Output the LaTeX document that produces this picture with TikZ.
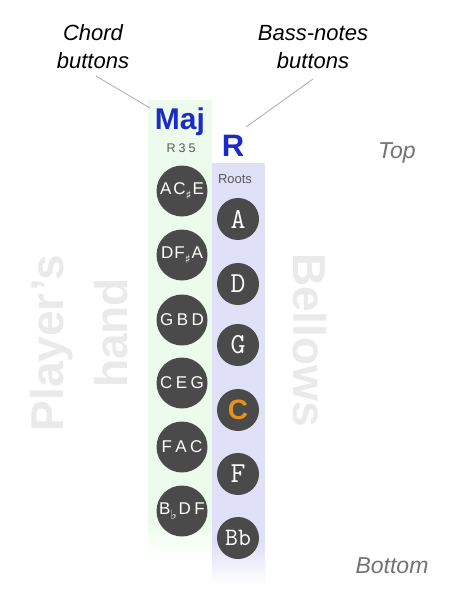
\documentclass[tikz,border=0pt]{standalone}
\usepackage{fontspec}
\setmainfont{Liberation Sans}
\newfontfamily\symf{DejaVu Sans}
\definecolor{majblue}{RGB}{28,42,200}
\definecolor{stripgreen}{RGB}{236,251,236}
\definecolor{stripblue}{RGB}{224,224,248}
\definecolor{btn}{RGB}{74,74,74}
\definecolor{ghost}{RGB}{234,234,234}
\definecolor{corange}{RGB}{232,146,26}
\definecolor{leader}{RGB}{170,170,170}
\tikzset{
  chordbtn/.style={circle,fill=btn,minimum size=51pt,inner sep=0pt,text=white,font=\fontsize{17}{17}\selectfont},
  rootbtn/.style={circle,fill=btn,minimum size=42pt,inner sep=0pt,text=white,font=\ttfamily\fontsize{29}{29}\selectfont},
  callout/.style={align=center,font=\itshape\fontsize{22}{28}\selectfont},
  ghosttext/.style={text=ghost,font=\bfseries\fontsize{46}{46}\selectfont},
  sidetext/.style={text=black!55,font=\itshape\fontsize{23}{23}\selectfont},
  leaderline/.style={draw=leader,line width=0.8pt}
}
\newcommand{\shp}{\raisebox{-5pt}{\symf\fontsize{12}{12}\selectfont ♯}}
\newcommand{\flt}{\raisebox{-5pt}{\symf\fontsize{13}{13}\selectfont ♭}}
\newcommand{\gp}{\hspace{3.5pt}}
\begin{document}
\begin{tikzpicture}[x=1pt,y=-1pt]
\useasboundingbox (0,0) rectangle (471,604);
\fill[white] (0,0) rectangle (471,604);
% strips
\fill[stripgreen] (148,100) rectangle (212,520);
\shade[top color=stripgreen,bottom color=white] (148,519.5) rectangle (212,558);
\fill[stripblue] (212,163) rectangle (265,545);
\shade[top color=stripblue,bottom color=white] (212,544.5) rectangle (265,585);
% ghost texts
\node[ghosttext,rotate=90] (player) at (52,343) {Player's};
\node[ghosttext,rotate=90] (hand) at (111,333) {hand};
\node[ghosttext,rotate=-90] (bellows) at (310,340) {Bellows};
% headers
\node[text=majblue,font=\bfseries\fontsize{30}{30}\selectfont,anchor=base] (maj) at (180,130) {Maj};
\node[text=black!65,font=\fontsize{12.5}{12.5}\selectfont,anchor=base] (r35) at (181,153) {R\hspace{3pt}3\hspace{3pt}5};
\node[text=majblue,font=\bfseries\fontsize{31}{31}\selectfont,anchor=base] (rr) at (233,157) {R};
\node[text=black!65,font=\fontsize{13}{13}\selectfont,anchor=base] (roots) at (235,183) {Roots};
% callouts
\node[callout,anchor=base] (chord) at (93,41) {Chord};
\node[callout,anchor=base] (chord2) at (93,69) {buttons};
\node[callout,anchor=base] (bass) at (313,41) {Bass-notes};
\node[callout,anchor=base] (bass2) at (313,69) {buttons};
\coordinate (l1a) at (96,76);
\coordinate (l1b) at (150,108);
\coordinate (l2a) at (313,79);
\coordinate (l2b) at (246,127);
\draw[leaderline] (l1a) -- (l1b);
\draw[leaderline] (l2a) -- (l2b);
% top / bottom
\node[sidetext,anchor=base] (top) at (397,158) {Top};
\node[sidetext,anchor=base] (bottom) at (392,573) {Bottom};
% chord buttons
\node[chordbtn] (c1) at (182,191) {A\hspace{2pt}C\shp\hspace{1pt}E};
\node[chordbtn] (c2) at (182,255) {D\hspace{1pt}F\shp\hspace{1pt}A};
\node[chordbtn] (c3) at (182,320) {G\gp B\gp D};
\node[chordbtn] (c4) at (182,383) {C\gp E\gp G};
\node[chordbtn] (c5) at (182,447) {F\gp A\gp C};
\node[chordbtn] (c6) at (182,511) {B\flt\hspace{2pt}D\gp F};
% root buttons
\node[rootbtn] (r1) at (238,219) {A};
\node[rootbtn] (r2) at (238,284) {D};
\node[rootbtn] (r3) at (238,345) {G};
\node[rootbtn,text=corange,font=\bfseries\fontsize{28}{28}\selectfont] (r4) at (238,410) {C};
\node[rootbtn] (r5) at (238,474) {F};
\node[rootbtn,font=\ttfamily\fontsize{25}{25}\selectfont] (r6) at (238,538) {Bb};
\end{tikzpicture}
\end{document}
